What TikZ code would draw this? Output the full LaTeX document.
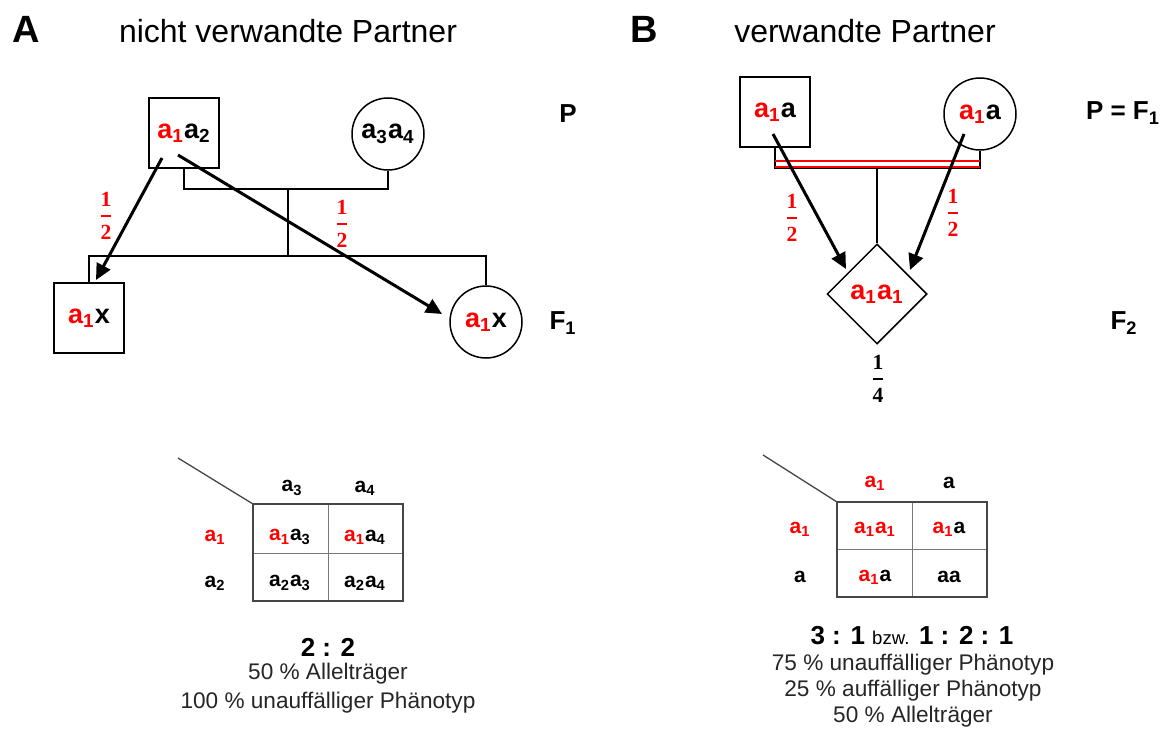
\documentclass[tikz,border=0pt]{standalone}
\usepackage[no-math]{fontspec}
\setmainfont{Liberation Sans}
\newfontfamily\fracfont{Liberation Serif}
\usepackage{amsmath}
\usetikzlibrary{arrows.meta,shapes.geometric}
\definecolor{allel}{RGB}{255,0,0}
\definecolor{gridline}{RGB}{120,120,120}
\definecolor{gridframe}{RGB}{70,70,70}
% allele symbols: red marked allele, black other allele
\newcommand\ra[1]{\textcolor{allel}{a\textsubscript{#1}}}
\newcommand\ba[1]{a\textsubscript{#1}}
% bold stacked fraction with serif digits
\newcommand\fr[2]{\(\displaystyle\genfrac{}{}{1.3pt}{}{\text{\fracfont\bfseries #1}}{\text{\fracfont\bfseries #2}}\)}
\begin{document}
\begin{tikzpicture}[x=0.5pt,y=-0.5pt,
  male/.style={draw,line width=0.75pt,minimum size=35pt,inner sep=0pt,font=\fontsize{13.5}{16}\selectfont\bfseries},
  female/.style={circle,draw,line width=0.75pt,minimum size=36pt,inner sep=0pt,font=\fontsize{13.5}{16}\selectfont\bfseries},
  unknown/.style={diamond,draw,line width=0.75pt,minimum width=50pt,minimum height=50pt,inner sep=0pt,font=\fontsize{13.5}{16}\selectfont\bfseries},
  gen/.style={font=\fontsize{13}{16}\selectfont\bfseries},
  panel/.style={font=\fontsize{19}{22}\selectfont\bfseries},
  title/.style={font=\fontsize{16}{19}\selectfont},
  cell/.style={font=\fontsize{10.5}{12}\selectfont\bfseries},
  ratio/.style={font=\fontsize{13}{16}\selectfont\bfseries},
  body/.style={font=\fontsize{11.3}{13.5}\selectfont,text=black!85},
  frac/.style={font=\fontsize{10.8}{12}\selectfont,inner sep=0pt},
  link/.style={line width=0.65pt},
  inherit/.style={line width=1.5pt,-{Triangle[length=8pt,width=7.5pt]}}
]
\fill[white] (0,0) rectangle (1164,733);
\useasboundingbox (0,0) rectangle (1164,733);

% ---------- panel A: unrelated partners ----------
\node[panel] (labA) at (26,29) {A};
\node[title] (titA) at (288,31) {nicht verwandte Partner};

\node[male]   (fa) at (184,133) {\ra{1}\ba{2}};
\node[female] (mo) at (388,134) {\ba{3}\ba{4}};
\node[male]   (son) at (89,318) {\ra{1}x};
\node[female] (dau) at (486,322) {\ra{1}x};
\node[gen] (genP)  at (568,114) {P};
\node[gen] (genF1) at (563,323) {F\textsubscript{1}};

\coordinate (mA) at (288,189);
\coordinate (sA) at (288,256);
\draw[link] (fa.south) |- (mA) -| (mo.south);
\draw[link] (mA) -- (sA);
\draw[link] (son.north) |- (sA) -| (dau.north);

\coordinate (a1s) at (162,158);
\coordinate (a1t) at (96,280);
\coordinate (a2s) at (178,155);
\coordinate (a2t) at (442,314);
\draw[inherit] (a1s) -- (a1t);
\draw[inherit] (a2s) -- (a2t);
\node[frac,text=allel] (fA1) at (106,216) {\fr{1}{2}};
\node[frac,text=allel] (fA2) at (342,224) {\fr{1}{2}};

% Punnett square A
\coordinate (gA) at (253,504);
\coordinate (gA0) at (178,458);
\draw[link,gridframe] (gA0) -- (gA);
\draw[line width=0.5pt,gridline] (328,504) -- (328,601) (253,553) -- (403,553);
\draw[line width=0.75pt,gridframe] (gA) rectangle (403,601);
\node[cell] (hA1) at (292,488) {\ba{3}};
\node[cell] (hA2) at (365,488) {\ba{4}};
\node[cell] (rA1) at (215,537) {\ra{1}};
\node[cell] (rA2) at (215,583) {\ba{2}};
\node[cell] (cA11) at (290,537) {\ra{1}\ba{3}};
\node[cell] (cA12) at (365,537) {\ra{1}\ba{4}};
\node[cell] (cA21) at (290,583) {\ba{2}\ba{3}};
\node[cell] (cA22) at (365,583) {\ba{2}\ba{4}};
\node[ratio] (rtA) at (328,647) {2 : 2};
\node[body] (tA1) at (328,674) {50 \% Allelträger};
\node[body] (tA2) at (328,703) {100 \% unauffälliger Phänotyp};

% ---------- panel B: related partners ----------
\node[panel] (labB) at (644,29) {B};
\node[title] (titB) at (865,31) {verwandte Partner};

\node[male]    (fb) at (775,112) {\ra{1}a};
\node[female]  (mb) at (980,114) {\ra{1}a};
\node[unknown] (kid) at (877,294) {\textcolor{allel}{a\textsubscript{1}a\textsubscript{1}}};
\node[gen] (genPF) at (1123,113) {P = F\textsubscript{1}};
\node[gen] (genF2) at (1124,323) {F\textsubscript{2}};

% consanguineous mating: black bracket with a red double line
\coordinate (mB) at (877,168);
\coordinate (mB2) at (877,161);
\draw[link] (fb.south) |- (mB) -| (mb.south);
\draw[line width=0.8pt,allel] (fb.south |- mB2) -- (mb.south |- mB2);
\draw[line width=0.8pt,allel] ([yshift=0.4pt]fb.south |- mB) -- ([yshift=0.4pt]mb.south |- mB);
\draw[link] (mB) -- (kid.north);

\coordinate (b1s) at (773,134);
\coordinate (b1t) at (846,269);
\coordinate (b2s) at (964,134);
\coordinate (b2t) at (910,270);
\draw[inherit] (b1s) -- (b1t);
\draw[inherit] (b2s) -- (b2t);
\node[frac,text=allel] (fB1) at (792,218) {\fr{1}{2}};
\node[frac,text=allel] (fB2) at (953,213) {\fr{1}{2}};
\node[frac] (fB3) at (878,379) {\fr{1}{4}};

% Punnett square B
\coordinate (gB) at (837,502);
\coordinate (gB0) at (763,455);
\draw[link,gridframe] (gB0) -- (gB);
\draw[line width=0.5pt,gridline] (912,502) -- (912,597) (837,549) -- (987,549);
\draw[line width=0.75pt,gridframe] (gB) rectangle (987,597);
\node[cell] (hB1) at (875,483) {\ra{1}};
\node[cell] (hB2) at (949,483) {a};
\node[cell] (rB1) at (800,529) {\ra{1}};
\node[cell] (rB2) at (800,577) {a};
\node[cell] (cB11) at (875,529) {\ra{1}\ra{1}};
\node[cell] (cB12) at (949,529) {\ra{1}a};
\node[cell] (cB21) at (875,577) {\ra{1}a};
\node[cell] (cB22) at (949,577) {aa};
\node[ratio] (rtB) at (912,636) {3 : 1 {\mdseries\fontsize{9.3}{11}\selectfont bzw.} 1 : 2 : 1};
\node[body] (tB1) at (913,665) {75 \% unauffälliger Phänotyp};
\node[body] (tB2) at (913,691) {25 \% auffälliger Phänotyp};
\node[body] (tB3) at (913,717) {50 \% Allelträger};
\end{tikzpicture}
\end{document}
